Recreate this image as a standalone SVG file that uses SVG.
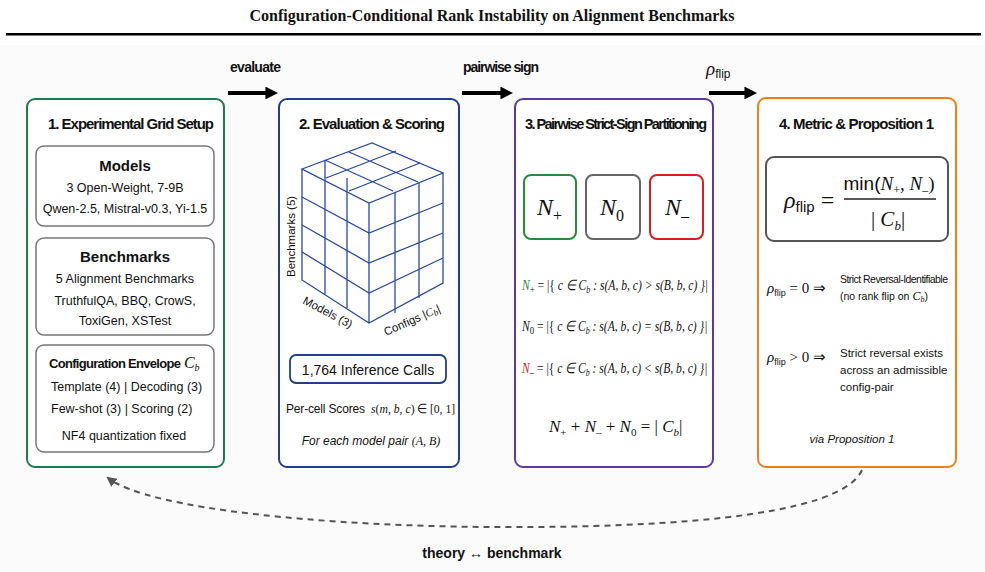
<svg xmlns="http://www.w3.org/2000/svg" width="985" height="572" viewBox="0 0 985 572">
<style>
.t{font-family:"Liberation Sans",Arial,sans-serif;fill:#111}
.h{font-weight:bold;font-size:15px}
.s{font-size:12.5px}
.m{font-family:"Liberation Serif","Times New Roman",serif;font-style:italic;fill:#111}
.box{fill:#fff;stroke-width:2}
.in{fill:#fff;stroke:#777;stroke-width:1.5}
.g{fill:none;stroke:#2a4a9a;stroke-width:1.3}
</style>
<defs>
<marker id="ah" viewBox="0 0 10 10" refX="2" refY="5" markerWidth="3.2" markerHeight="3.2" orient="auto"><path d="M0,0L10,5L0,10z" fill="#000"/></marker>
<marker id="dh" viewBox="0 0 10 10" refX="8" refY="5" markerWidth="5" markerHeight="5" orient="auto"><path d="M0,0L10,5L0,10z" fill="#555"/></marker>
</defs>
<rect width="985" height="572" fill="#fff"/>
<rect x="0" y="45" width="985" height="527" fill="#fbfbfb"/>
<text x="492" y="21" text-anchor="middle" font-family="Liberation Serif,serif" font-weight="bold" font-size="16" fill="#111">Configuration-Conditional Rank Instability on Alignment Benchmarks</text>
<rect x="6" y="33" width="975" height="2.5" fill="#000"/>

<g id="connectors">
<line x1="228" y1="93" x2="268" y2="93" stroke="#000" stroke-width="4" marker-end="url(#ah)"/>
<line x1="462" y1="93" x2="503" y2="93" stroke="#000" stroke-width="4" marker-end="url(#ah)"/>
<line x1="709" y1="93" x2="747" y2="93" stroke="#000" stroke-width="4" marker-end="url(#ah)"/>
<text class="t" x="230" y="72" font-size="14" font-weight="bold" textLength="51">evaluate</text>
<text class="t" x="463" y="72" font-size="14" font-weight="bold" textLength="76">pairwise sign</text>
<text class="m" x="706" y="75" font-size="19">ρ<tspan font-style="normal" font-family="Liberation Sans,sans-serif" font-size="12" dy="3">flip</tspan></text>
<path d="M862,470 C840,520 640,528 490,527 C330,526 150,510 108,478" fill="none" stroke="#555" stroke-width="2" stroke-dasharray="6,5" marker-end="url(#dh)"/>
<text class="t" x="492" y="558" text-anchor="middle" font-size="14" font-weight="bold">theory ↔ benchmark</text>
</g>

<g id="node1">
<rect class="box" x="27" y="99" width="197" height="368" rx="8" stroke="#1f7a4d"/>
<text class="t h" x="48" y="129" textLength="166">1. Experimental Grid Setup</text>
<rect class="in" x="36" y="146" width="178" height="80" rx="8"/>
<text class="t" x="125" y="171" text-anchor="middle" font-size="15" font-weight="bold">Models</text>
<text class="t s" x="125" y="192" text-anchor="middle">3 Open-Weight, 7-9B</text>
<text class="t s" x="125" y="213" text-anchor="middle">Qwen-2.5, Mistral-v0.3, Yi-1.5</text>
<rect class="in" x="36" y="238" width="178" height="97" rx="8"/>
<text class="t" x="125" y="262" text-anchor="middle" font-size="15" font-weight="bold">Benchmarks</text>
<text class="t s" x="125" y="283" text-anchor="middle">5 Alignment Benchmarks</text>
<text class="t s" x="125" y="305" text-anchor="middle">TruthfulQA, BBQ, CrowS,</text>
<text class="t s" x="125" y="325" text-anchor="middle">ToxiGen, XSTest</text>
<rect class="in" x="36" y="345" width="178" height="107" rx="8"/>
<text class="t" x="49" y="368" font-size="13" font-weight="bold"><tspan textLength="132">Configuration Envelope</tspan> <tspan class="m" font-size="16" font-weight="normal">C</tspan><tspan class="m" font-size="10" font-weight="normal" dy="3">b</tspan></text>
<text class="t s" x="51" y="391">Template (4)  |  Decoding (3)</text>
<text class="t s" x="51" y="413">Few-shot (3)   |   Scoring (2)</text>
<text class="t s" x="124" y="440" text-anchor="middle">NF4 quantization fixed</text>
</g>

<g id="node2">
<rect class="box" x="279" y="99" width="180" height="368" rx="8" stroke="#1f3f88"/>
<text class="t h" x="299" y="129" textLength="146">2. Evaluation &amp; Scoring</text>
<path class="g" d="M302,169L372,143L443,173L369,203Z M302,169L302,280L369,323L443,283L443,173 M369,203L369,323"/>
<path class="g" d="M325,160L393,191 M349,152L418,182 M325,160L325,294 M347,178L347,308 M302,197L369,233L443,203 M302,225L369,263L443,233 M302,252L369,293L443,258 M395,192L395,313 M419,182L419,298 M326,178L396,151 M349,191L420,163"/>
<text class="t" x="0" y="0" font-size="11.5" transform="translate(295,277) rotate(-90)">Benchmarks (5)</text>
<text class="t" x="0" y="0" font-size="11.5" transform="translate(302,303) rotate(28)">Models (3)</text>
<text class="t" x="0" y="0" font-size="11.5" transform="translate(386,336) rotate(-24)">Configs |<tspan class="m">C</tspan><tspan class="m" font-size="9" dy="2">b</tspan><tspan dy="-2">|</tspan></text>
<rect x="290" y="355" width="156" height="28" rx="6" fill="#fff" stroke="#1f3f88" stroke-width="1.8"/>
<text class="t" x="368" y="375" text-anchor="middle" font-size="14">1,764 Inference Calls</text>
<text class="t" x="286" y="413" font-size="12" textLength="79">Per-cell Scores</text>
<text class="m" x="0" y="0" font-size="13" transform="translate(371,413) scale(0.9,1)">s<tspan font-style="normal">(</tspan>m<tspan font-style="normal">, </tspan>b<tspan font-style="normal">, </tspan>c<tspan font-style="normal">) ∈ [0, 1]</tspan></text>
<text class="t" x="371" y="445" text-anchor="middle" font-size="12" font-style="italic">For each model pair <tspan font-family="Liberation Serif,serif">(A, B)</tspan></text>
</g>

<g id="node3">
<rect class="box" x="515" y="99" width="198" height="368" rx="8" stroke="#5b3a9a"/>
<text class="t" x="525" y="129" font-size="14.5" font-weight="bold" textLength="182">3. Pairwise Strict-Sign Partitioning</text>
<rect x="524" y="175" width="52" height="64" rx="7" fill="#fff" stroke="#2a8a3a" stroke-width="2"/>
<rect x="586" y="175" width="54" height="64" rx="7" fill="#fff" stroke="#666" stroke-width="2"/>
<rect x="650" y="175" width="53" height="64" rx="7" fill="#fff" stroke="#d62020" stroke-width="2"/>
<g class="m" font-size="24">
<text x="537" y="215">N<tspan font-style="normal" font-size="16" dy="6">+</tspan></text>
<text x="600" y="215">N<tspan font-style="normal" font-size="16" dy="6">0</tspan></text>
<text x="665" y="215">N<tspan font-style="normal" font-size="16" dy="6">–</tspan></text>
</g>
<g class="m" font-size="14.5">
<text x="0" y="0" transform="translate(522,290) scale(0.8,1)"><tspan fill="#2a8a3a">N</tspan><tspan font-style="normal" font-size="11" dy="3">+</tspan><tspan font-style="normal" dy="-3"> = |{ </tspan>c ∈ C<tspan font-size="10" dy="3">b</tspan><tspan dy="-3"> : s(A, b, c) &gt; s(B, b, c) }|</tspan></text>
<text x="0" y="0" transform="translate(522,331) scale(0.8,1)">N<tspan font-style="normal" font-size="11" dy="3">0</tspan><tspan font-style="normal" dy="-3"> = |{ </tspan>c ∈ C<tspan font-size="10" dy="3">b</tspan><tspan dy="-3"> : s(A, b, c) = s(B, b, c) }|</tspan></text>
<text x="0" y="0" transform="translate(522,373) scale(0.8,1)"><tspan fill="#d62020">N</tspan><tspan font-style="normal" font-size="11" dy="3">–</tspan><tspan font-style="normal" dy="-3"> = |{ </tspan>c ∈ C<tspan font-size="10" dy="3">b</tspan><tspan dy="-3"> : s(A, b, c) &lt; s(B, b, c) }|</tspan></text>
<text x="549" y="432" font-size="17">N<tspan font-style="normal" font-size="11" dy="4">+</tspan><tspan font-style="normal" dy="-4"> + </tspan>N<tspan font-style="normal" font-size="11" dy="4">–</tspan><tspan font-style="normal" dy="-4"> + </tspan>N<tspan font-style="normal" font-size="11" dy="4">0</tspan><tspan font-style="normal" dy="-4"> = | </tspan>C<tspan font-size="11" dy="4">b</tspan><tspan font-style="normal" dy="-4">|</tspan></text>
</g>
</g>

<g id="node4">
<rect class="box" x="758" y="98" width="198" height="369" rx="8" stroke="#e8821a"/>
<text class="t h" x="779" y="129" textLength="155">4. Metric &amp; Proposition 1</text>
<rect x="766" y="157" width="182" height="84" rx="8" fill="#fff" stroke="#555" stroke-width="2"/>
<text class="m" x="784" y="208" font-size="24">ρ<tspan font-style="normal" font-family="Liberation Sans,sans-serif" font-size="15" dy="4">flip</tspan><tspan font-style="normal" dy="-4"> =</tspan></text>
<text class="m" x="889" y="190" text-anchor="middle" font-size="19"><tspan font-style="normal" font-family="Liberation Sans,sans-serif">min(</tspan>N<tspan font-style="normal" font-size="12" dy="4">+</tspan><tspan font-style="normal" dy="-4">, </tspan>N<tspan font-style="normal" font-size="12" dy="4">–</tspan><tspan font-style="normal" dy="-4">)</tspan></text>
<line x1="844" y1="199" x2="936" y2="199" stroke="#222" stroke-width="1.5"/>
<text class="m" x="888" y="226" text-anchor="middle" font-size="21"><tspan font-style="normal">| </tspan>C<tspan font-size="13" dy="4">b</tspan><tspan font-style="normal" dy="-4">|</tspan></text>
<text class="m" x="767" y="293" font-size="15">ρ<tspan font-style="normal" font-family="Liberation Sans,sans-serif" font-size="9" dy="3">flip</tspan><tspan font-style="normal" dy="-3"> = 0  ⇒</tspan></text>
<text class="t" x="840" y="283" font-size="10.5" textLength="108">Strict Reversal-Identifiable</text>
<text class="t" x="840" y="300" font-size="10.5">(no rank flip on <tspan class="m" font-size="12">C</tspan><tspan class="m" font-size="8" dy="2">b</tspan><tspan dy="-2">)</tspan></text>
<text class="m" x="767" y="362" font-size="15">ρ<tspan font-style="normal" font-family="Liberation Sans,sans-serif" font-size="9" dy="3">flip</tspan><tspan font-style="normal" dy="-3"> &gt; 0  ⇒</tspan></text>
<text class="t" x="840" y="357" font-size="11.5">Strict reversal exists</text>
<text class="t" x="840" y="374" font-size="11.5">across an admissible</text>
<text class="t" x="840" y="391" font-size="11.5">config-pair</text>
<text class="t" x="852" y="443" text-anchor="middle" font-size="11.5" font-style="italic">via Proposition 1</text>
</g>
</svg>
